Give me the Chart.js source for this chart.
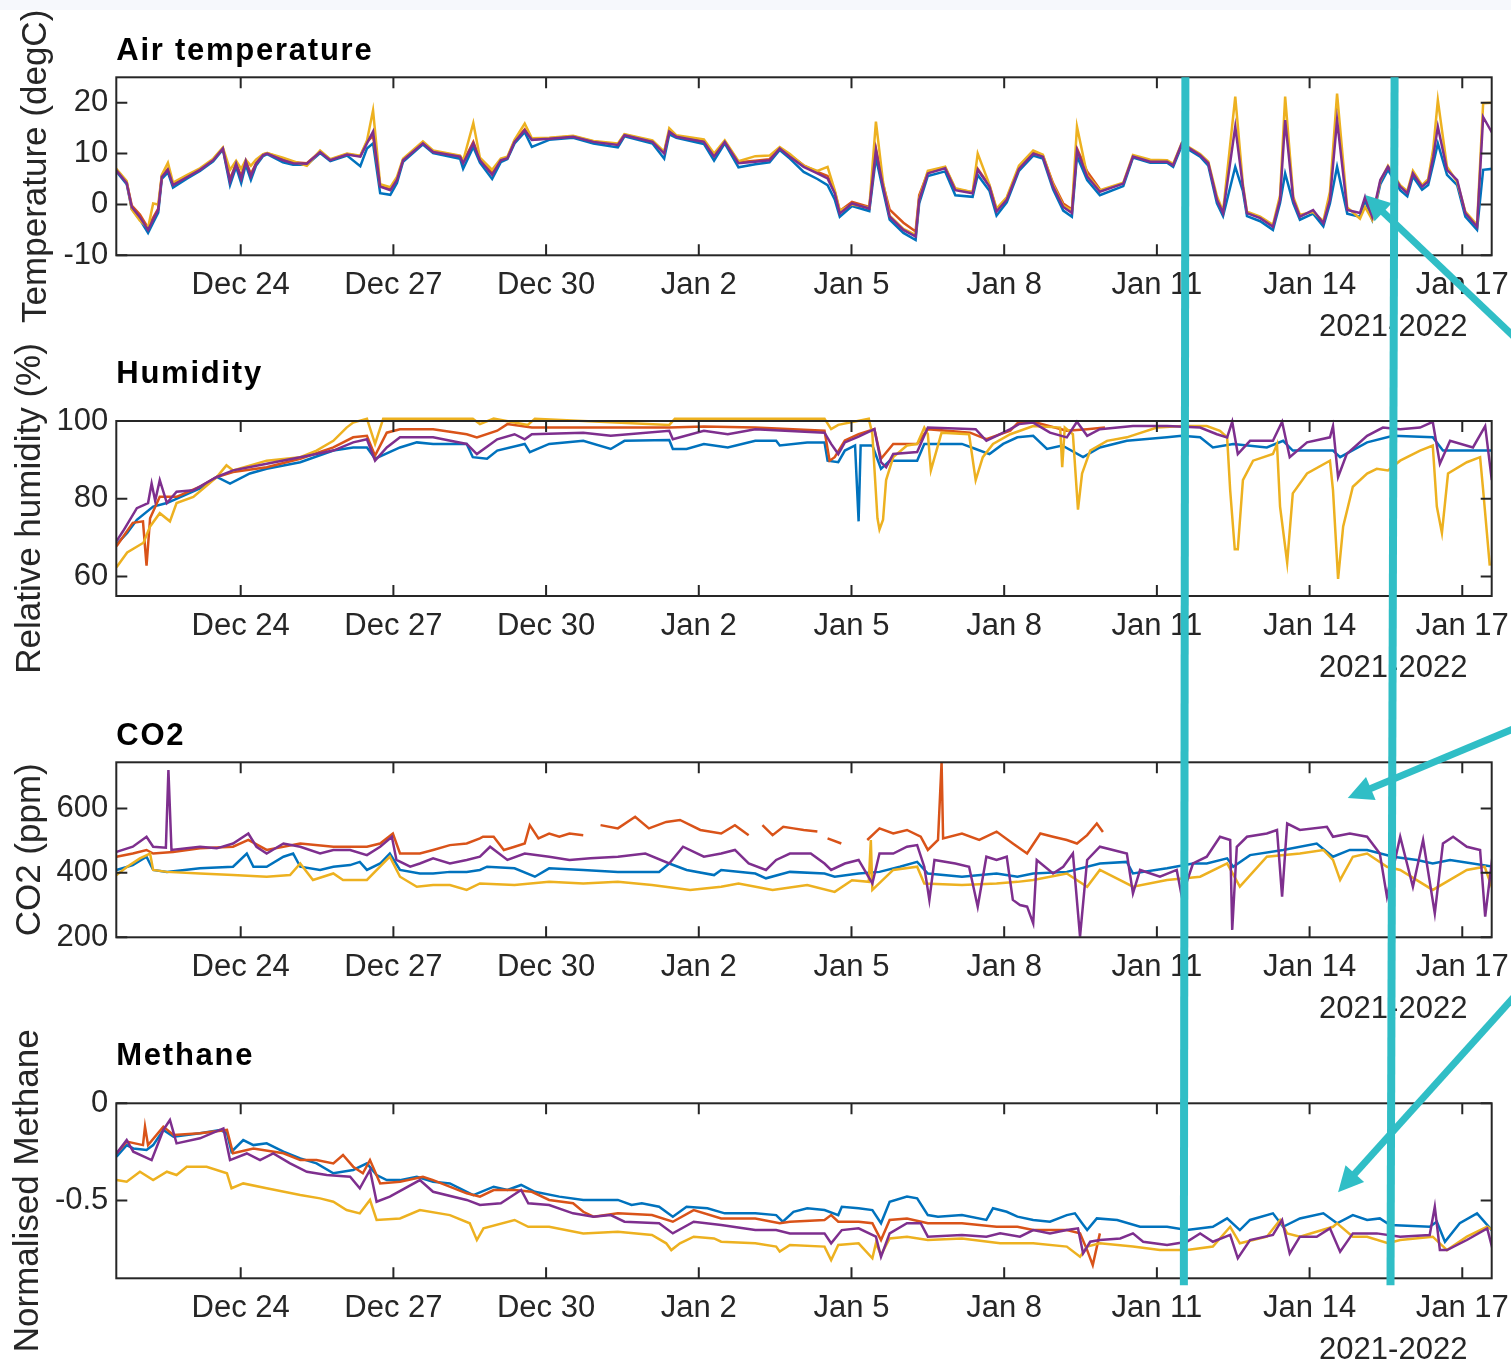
<!DOCTYPE html>
<html><head><meta charset="utf-8">
<script src="https://cdn.jsdelivr.net/npm/chart.js@4.4.1/dist/chart.umd.min.js"></script>
<style>
html,body{margin:0;padding:0;background:#fff;}
body{width:1511px;height:1362px;position:relative;overflow:hidden;}
#topband{position:absolute;left:0;top:0;width:1511px;height:10px;background:#f6f8fc;}
canvas{position:absolute;left:0;}
#overlay{position:absolute;left:0;top:0;pointer-events:none;}
</style></head><body>
<div id="topband"></div>
<canvas id="c1" width="1511" height="340" style="top:0px"></canvas>
<canvas id="c2" width="1511" height="340" style="top:340px"></canvas>
<canvas id="c3" width="1511" height="340" style="top:680px"></canvas>
<canvas id="c4" width="1511" height="342" style="top:1020px"></canvas>
<svg id="overlay" width="1511" height="1362" xmlns="http://www.w3.org/2000/svg"></svg>
<script>
// Time axis: days since 2021-12-21 00:00
const xTickDays   = [3, 6, 9, 12, 15, 18, 21, 24, 27];
const xTickLabels = ['Dec 24','Dec 27','Dec 30','Jan 2','Jan 5','Jan 8','Jan 11','Jan 14','Jan 17'];
const xSecondaryLabel = '2021-2022';

// ---------- Air temperature (degC) ----------
const tempT = [0.49,0.76,0.86,1.02,1.18,1.28,1.38,1.45,1.57,1.67,
 1.95,2.20,2.46,2.65,2.79,2.91,3.01,3.10,3.20,3.30,
 3.44,3.52,3.83,4.03,4.30,4.56,4.76,5.09,5.35,5.48,
 5.60,5.74,5.94,6.07,6.19,6.58,6.78,7.31,7.37,7.57,
 7.70,7.94,8.11,8.24,8.38,8.58,8.72,9.06,9.53,9.93,
 10.41,10.54,11.09,11.32,11.42,11.56,12.10,12.30,12.51,12.78,
 13.11,13.39,13.59,13.79,14.06,14.33,14.53,14.67,14.77,15.01,
 15.35,15.48,15.62,15.75,16.02,16.26,16.33,16.50,16.84,17.04,
 17.38,17.48,17.71,17.85,18.05,18.29,18.57,18.76,18.96,19.16,
 19.33,19.43,19.63,19.88,20.34,20.53,20.87,21.20,21.32,21.49,
 21.85,22.01,22.18,22.30,22.54,22.69,22.77,23.03,23.28,23.42,
 23.52,23.68,23.81,24.07,24.27,24.40,24.54,24.74,24.99,25.09,
 25.23,25.39,25.54,25.78,25.92,26.03,26.21,26.33,26.43,26.52,
 26.70,26.90,27.06,27.29,27.41,27.59];
const tempBlue = [7.3,4.0,-0.9,-3.0,-5.6,-3.6,-1.6,5.0,6.3,3.3,
 5.1,6.6,8.5,10.8,3.8,7.4,4.2,7.8,4.8,7.6,
 9.5,9.9,8.3,7.8,7.8,10.1,8.5,9.6,7.5,11.0,
 12.0,2.2,1.9,4.2,8.4,11.8,10.1,9.0,7.0,11.3,
 8.2,5.0,8.3,8.9,12.0,14.2,11.3,12.7,13.1,12.0,
 11.2,13.4,12.0,9.0,13.8,13.1,11.9,8.6,12.0,7.3,
 7.9,8.3,10.7,9.0,6.4,5.0,3.8,1.0,-2.4,-0.3,
 -1.3,9.2,2.8,-3.0,-5.6,-7.0,0.2,5.6,6.5,1.8,
 1.5,5.8,2.7,-2.2,0.4,6.6,9.6,9.0,3.0,-1.2,
 -2.4,9.5,4.8,1.8,3.6,9.2,8.2,8.2,7.4,11.6,
 9.4,7.6,0.2,-2.3,7.4,2.6,-2.3,-3.3,-5.0,0.3,
 6.1,0.2,-3.0,-1.8,-4.3,0.2,7.4,-1.8,-2.4,0.8,
 -3.0,4.0,6.8,2.8,1.6,5.5,2.9,3.8,8.0,12.0,
 5.8,3.8,-2.4,-5.0,6.8,7.0];
const tempOrange = [7.6,4.4,-0.2,-2.0,-4.6,-2.6,-0.8,5.6,7.0,4.0,
 5.5,6.9,8.8,11.0,5.0,8.0,5.6,8.5,6.0,8.0,
 9.8,10.1,8.9,8.3,8.1,10.4,8.8,9.9,9.5,12.3,
 13.5,3.6,3.0,5.0,8.8,12.2,10.4,9.5,8.3,12.3,
 8.9,6.2,8.8,9.2,12.5,14.8,12.8,13.0,13.4,12.4,
 11.8,13.7,12.4,10.2,14.4,13.4,12.4,9.6,12.4,8.3,
 8.6,8.9,11.1,9.7,7.7,6.4,5.6,2.6,-1.3,0.5,
 -0.5,11.0,4.0,-1.0,-3.6,-5.3,1.8,6.3,7.3,3.0,
 2.4,7.0,3.7,-1.0,1.2,7.2,10.2,9.6,4.2,0.2,
 -1.0,11.0,6.5,3.0];
const tempYellow = [7.8,4.6,-1.0,-3.2,-4.6,0.2,0.0,5.8,8.2,4.3,
 5.8,7.1,9.0,11.2,6.8,8.6,7.0,8.8,7.6,8.8,
 9.9,10.1,9.2,8.5,7.6,10.6,8.9,10.0,9.6,12.5,
 18.5,4.0,3.4,5.4,9.0,12.4,10.6,9.6,8.6,16.0,
 9.2,6.8,9.0,9.4,12.7,15.9,13.0,13.1,13.5,12.5,
 12.0,13.8,12.6,10.4,15.0,13.6,12.8,10.0,12.6,8.5,
 9.5,9.6,11.3,9.9,7.6,6.6,7.4,2.8,-1.2,0.0,
 -0.6,16.3,4.4,-2.2,-4.8,-6.0,1.2,6.6,7.4,3.2,
 2.4,10.0,3.9,-0.8,1.4,7.6,10.6,9.8,3.9,-0.2,
 -1.2,15.3,5.8,2.8,4.3,9.7,8.8,8.7,8.0,12.1,
 9.9,8.4,1.6,-1.4,21.2,4.0,-1.4,-2.4,-4.0,1.8,
 21.2,1.5,-2.0,-1.5,-3.3,2.5,21.8,-0.6,-2.8,-0.5,
 -3.0,4.6,7.6,3.8,2.6,6.6,3.8,5.0,11.0,20.5,
 7.4,4.4,-1.4,-4.0,19.9,20.0];
const tempPurple = [7.5,4.2,-0.5,-2.5,-5.0,-3.0,-1.0,5.4,6.8,3.8,
 5.4,6.8,8.7,11.0,4.5,8.0,5.0,8.5,5.5,8.0,
 9.7,10.0,8.7,8.1,8.0,10.3,8.7,9.8,9.4,12.0,
 14.3,3.5,2.8,4.8,8.7,12.0,10.3,9.4,8.1,12.0,
 8.7,5.8,8.7,9.1,12.3,14.6,12.7,12.9,13.3,12.3,
 11.7,13.6,12.3,10.0,14.3,13.3,12.3,9.4,12.3,8.1,
 8.4,8.7,11.0,9.4,7.4,6.1,5.1,2.2,-1.8,0.2,
 -0.8,10.7,3.5,-2.4,-5.0,-6.3,0.9,6.1,7.1,2.8,
 2.2,6.8,3.5,-1.4,0.9,7.0,10.0,9.4,3.5,-0.5,
 -1.7,10.7,5.5,2.5,4.1,9.4,8.4,8.4,7.7,12.0,
 9.7,8.1,0.9,-1.7,15.3,3.5,-1.7,-2.7,-4.4,0.9,
 16.6,0.9,-2.4,-1.1,-3.7,0.9,16.6,-1.1,-1.7,1.5,
 -2.4,4.8,7.4,3.5,2.2,6.1,3.5,4.5,9.4,15.3,
 6.8,4.8,-1.7,-4.4,17.2,14.0];

// ---------- Relative humidity (%) ----------
const humBlueT = [0.56,0.77,0.96,1.28,1.55,2.20,2.53,2.79,3.18,3.51,
 4.17,4.82,5.21,5.48,5.64,6.13,6.46,6.78,7.44,7.56,
 7.84,8.04,8.58,8.68,9.06,9.73,10.27,10.54,11.42,11.49,
 11.76,12.10,12.57,13.11,13.52,13.59,14.13,14.47,14.53,14.74,
 14.87,15.07,15.14,15.18,15.41,15.58,15.75,16.29,16.43,17.17,
 17.44,17.71,17.98,18.26,18.57,18.84,19.14,19.55,19.88,20.41,
 21.20,21.49,21.85,22.10,22.50,23.16,23.48,23.67,24.46,24.60,
 25.13,25.64,26.42,26.62,27.09,27.58];
const humBlue = [68.3,71.2,74.6,78.0,78.9,82.7,85.6,83.9,86.5,87.7,
 89.4,92.4,93.2,93.2,90.3,93.2,94.5,94.1,94.1,90.7,
 90.3,92.4,94.1,92.0,94.1,94.9,92.8,94.9,95.1,92.8,
 92.8,94.1,93.2,94.9,94.9,93.7,94.5,94.5,89.8,89.4,
 92.4,93.7,74.2,93.7,93.7,87.7,89.8,89.8,94.1,94.1,
 92.8,91.5,94.1,95.8,96.2,92.8,93.7,90.7,93.2,94.9,
 95.8,96.2,95.8,93.2,94.1,93.2,94.9,92.4,92.4,90.7,
 94.5,96.2,95.8,92.4,92.4,92.4];
const humOrangeT = [0.56,0.88,1.08,1.15,1.22,1.41,1.74,2.20,2.53,2.85,
 3.51,4.17,4.82,5.21,5.48,5.64,5.87,6.13,6.78,7.44,
 7.64,8.04,8.24,8.72,9.73,11.42,12.10,13.11,14.47,14.57,
 14.67,14.87,15.14,15.45,15.58,15.82,16.29,16.50,17.33,17.65,
 18.12,18.29,18.57,19.23,19.63,19.98];
const humOrange = [67.8,73.8,74.2,62.8,75.0,80.5,80.5,83.1,85.6,86.9,
 88.1,90.3,93.2,95.8,96.2,91.1,97.0,97.9,97.9,96.6,
 95.8,97.5,99.2,98.3,98.3,98.3,98.6,98.3,97.5,89.8,
 90.7,95.0,96.6,97.9,90.3,94.1,94.1,97.9,97.0,95.3,
 97.5,99.8,99.8,97.5,97.9,98.3];
const humYellowT = [0.56,0.77,1.09,1.22,1.41,1.61,1.74,2.07,2.53,2.72,
 2.85,3.51,4.17,4.49,4.82,5.08,5.21,5.48,5.64,5.80,
 7.56,7.70,7.97,8.64,8.78,11.42,11.53,14.47,14.60,14.74,
 15.34,15.41,15.51,15.55,15.62,15.68,15.82,16.09,16.29,16.43,
 16.50,16.56,16.67,16.77,17.31,17.44,17.58,17.78,18.12,18.57,
 19.10,19.14,19.19,19.35,19.45,19.53,19.69,20.02,20.41,21.00,
 21.51,21.98,22.24,22.38,22.44,22.53,22.59,22.69,22.89,23.28,
 23.36,23.42,23.56,23.67,23.95,24.40,24.46,24.56,24.66,24.85,
 25.13,25.32,25.54,25.78,26.17,26.42,26.50,26.60,26.72,27.09,
 27.35,27.41,27.54];
const humYellow = [62.4,66.2,68.7,72.9,76.3,74.2,78.9,80.5,85.6,88.6,
 87.3,89.8,90.7,92.4,94.9,98.3,99.6,100.6,94.1,100.6,
 100.6,99.2,100.6,99.0,100.6,99.0,100.6,100.6,97.9,99.0,
 100.6,96.6,75.0,72.1,74.6,84.8,90.7,93.7,94.1,98.3,
 96.6,87.3,92.4,97.0,96.6,84.8,90.7,94.1,96.6,98.7,
 98.3,88.1,98.3,96.6,77.2,86.5,92.4,94.9,95.8,98.3,
 98.7,98.7,97.5,95.8,82.2,67.0,67.0,84.8,89.8,91.5,
 94.0,78.0,63.6,81.4,86.5,89.8,82.2,59.4,72.9,83.1,
 86.5,87.7,87.3,89.8,92.4,93.7,78.0,71.2,86.5,89.4,
 90.7,82.2,62.8];
const humPurpleT = [0.56,0.69,0.96,1.18,1.25,1.32,1.41,1.55,1.74,2.07,
 2.53,2.85,3.51,4.17,4.82,5.21,5.48,5.64,5.87,6.13,
 6.78,7.44,7.64,8.04,8.38,8.58,8.72,9.73,10.27,11.42,
 11.49,12.10,12.57,13.11,14.47,14.60,14.74,14.87,15.14,15.45,
 15.58,15.68,15.82,16.29,16.50,17.44,17.65,17.85,18.12,18.29,
 18.57,18.90,19.23,19.43,19.63,19.88,20.53,21.20,21.85,22.18,
 22.38,22.48,22.59,22.83,23.28,23.46,23.61,23.95,24.40,24.46,
 24.56,24.73,25.13,25.44,25.78,26.17,26.42,26.56,26.76,27.21,
 27.45,27.58];
const humPurple = [69.1,71.7,77.6,78.9,83.9,79.5,84.8,78.9,81.8,82.2,
 85.6,87.3,89.0,90.7,92.4,94.5,95.3,89.8,93.2,95.8,
 95.8,94.1,91.5,95.3,96.6,95.3,96.6,97.0,96.2,97.5,
 95.3,97.5,96.6,97.9,97.0,94.1,91.5,94.5,96.0,97.9,
 89.4,88.1,91.5,92.0,98.3,97.9,94.9,96.2,97.9,99.2,
 99.6,97.0,95.8,99.8,96.2,97.9,98.7,98.7,98.3,96.6,
 95.8,99.8,91.5,94.9,94.9,99.8,90.7,94.5,95.8,98.7,
 85.6,91.5,96.2,98.3,97.9,98.3,99.8,89.0,94.9,93.2,
 98.7,84.8];

// ---------- CO2 (ppm) ----------
const co2BlueT = [0.56,0.88,1.15,1.28,1.55,2.20,2.85,3.12,3.25,3.51,
 3.84,4.03,4.17,4.56,4.82,5.15,5.34,5.48,5.74,5.93,
 6.13,6.52,6.78,7.11,7.44,7.70,7.84,8.38,8.78,9.06,
 9.73,10.41,11.22,11.42,11.76,12.30,12.44,13.11,13.32,13.79,
 14.47,14.67,15.14,15.55,15.95,16.29,16.50,17.17,17.85,18.26,
 18.57,19.23,19.88,20.41,20.53,21.20,21.71,21.98,22.38,22.50,
 22.83,23.48,24.14,24.46,24.79,25.13,25.64,26.11,26.42,26.76,
 27.60];
const co2Blue = [409,424,450,409,403,414,419,460,419,419,
 450,460,419,409,419,424,434,409,429,460,
 409,398,398,403,403,409,419,414,388,414,
 409,403,403,429,409,393,409,398,383,403,
 398,388,398,403,419,434,398,388,398,388,
 398,403,429,434,398,414,429,429,445,419,
 455,471,491,450,471,471,450,440,429,440,
 419];
const co2OrangeT = [0.56,0.88,1.15,1.28,1.67,2.20,2.85,3.15,3.51,4.17,
 4.82,5.48,5.74,5.99,6.13,6.52,6.78,7.11,7.44,7.70,
 7.76,7.97,8.17,8.38,8.58,8.68,8.85,9.06,9.26,9.46,
 9.73,9.90,10.07,10.41,10.75,11.02,11.36,11.63,12.03,12.44,
 12.71,12.98,13.10,13.25,13.45,13.66,13.86,14.06,14.33,14.43,
 14.53,14.80,14.95,15.31,15.55,15.82,16.09,16.36,16.50,16.70,
 16.77,16.80,17.17,17.51,17.85,18.17,18.45,18.71,18.96,19.23,
 19.43,19.63,19.82,19.94];
const co2Orange = [450,460,471,460,465,476,481,502,471,491,
 481,481,491,522,460,460,471,486,491,507,
 512,512,471,481,491,548,507,522,512,522,
 517,null,548,538,574,538,558,564,533,522,
 548,517,null,548,517,543,538,533,528,null,
 507,491,null,502,538,522,533,512,471,502,
 744,507,522,502,528,491,460,522,512,502,
 491,517,553,527];
const co2YellowT = [0.56,0.77,1.02,1.22,1.28,1.55,2.20,2.85,3.51,3.97,
 4.17,4.42,4.82,5.01,5.48,5.93,6.13,6.46,6.78,7.11,
 7.44,7.70,8.38,9.06,9.73,10.41,11.08,11.83,12.44,12.78,
 13.45,14.13,14.67,15.01,15.34,15.38,15.41,15.82,16.29,16.43,
 17.17,17.85,18.26,18.57,19.23,19.63,19.88,20.53,21.20,21.85,
 22.38,22.63,23.16,23.81,24.27,24.46,24.60,24.85,25.13,25.52,
 25.78,26.42,27.09,27.44,27.60];
const co2Yellow = [393,419,445,460,409,403,398,393,388,393,
 429,378,398,378,378,450,388,357,362,362,
 347,367,362,372,367,372,362,347,357,367,
 347,362,341,377,372,502,347,409,419,367,
 362,367,372,378,398,357,409,357,378,388,
 429,357,450,460,471,440,378,450,460,419,
 409,347,409,419,347];
const co2PurpleT = [0.56,0.88,1.15,1.28,1.53,1.58,1.64,1.94,2.20,2.53,
 2.85,3.15,3.31,3.51,3.84,4.17,4.56,4.82,5.15,5.48,
 5.74,5.97,6.06,6.33,6.52,6.78,7.11,7.44,7.70,7.90,
 8.24,8.58,9.06,9.46,9.87,10.41,10.95,11.42,11.69,12.10,
 12.44,12.71,12.98,13.32,13.52,13.79,14.20,14.47,14.60,14.87,
 15.14,15.41,15.55,15.82,16.09,16.29,16.43,16.53,16.63,17.04,
 17.31,17.48,17.65,17.85,18.05,18.17,18.31,18.45,18.57,18.64,
 18.96,19.16,19.35,19.49,19.63,19.88,20.41,20.53,20.67,21.06,
 21.39,21.49,21.71,21.98,22.24,22.44,22.48,22.57,22.77,23.16,
 23.36,23.46,23.56,23.81,24.34,24.46,24.79,25.13,25.38,25.52,
 25.78,26.03,26.23,26.46,26.62,26.82,27.09,27.35,27.45,27.60];
const co2Purple = [465,481,512,481,478,719,471,476,481,476,
 491,522,481,460,491,481,460,471,471,455,
 481,512,440,419,429,445,429,440,450,481,
 440,460,450,440,445,450,460,429,481,450,
 460,471,429,409,440,460,460,429,409,429,
 440,367,460,460,481,486,419,316,440,429,
 419,295,450,440,450,316,300,295,243,440,
 398,419,460,202,440,481,460,336,409,388,
 409,326,429,450,512,502,223,481,512,522,
 533,326,553,533,543,512,522,512,460,326,
 512,357,502,274,491,512,481,471,264,460];

// ---------- Normalised methane ----------
const ch4BlueT = [0.56,0.76,0.89,1.15,1.28,1.48,1.68,2.20,2.59,2.73,
 2.82,3.05,3.25,3.51,3.84,4.17,4.49,4.82,5.21,5.48,
 5.67,5.87,6.13,6.46,6.78,7.11,7.57,7.97,8.24,8.51,
 8.78,9.26,9.73,10.41,10.68,10.88,11.22,11.49,11.76,12.17,
 12.51,13.11,13.52,13.65,13.86,14.13,14.47,14.74,14.81,15.14,
 15.41,15.58,15.75,16.09,16.29,16.50,16.70,17.17,17.65,17.78,
 18.05,18.26,18.57,18.90,19.23,19.39,19.53,19.63,19.82,20.22,
 20.67,21.20,21.59,22.10,22.38,22.63,22.83,23.28,23.48,23.81,
 24.27,24.54,24.85,25.13,25.38,25.58,26.36,26.50,26.66,26.95,
 27.29,27.58];
const ch4Blue = [-0.275,-0.215,-0.232,-0.240,-0.215,-0.137,-0.172,-0.154,-0.137,-0.154,
 -0.249,-0.189,-0.215,-0.206,-0.249,-0.283,-0.309,-0.360,-0.343,-0.309,
 -0.369,-0.395,-0.395,-0.378,-0.403,-0.412,-0.472,-0.429,-0.446,-0.420,
 -0.455,-0.480,-0.497,-0.497,-0.523,-0.514,-0.532,-0.583,-0.532,-0.540,
 -0.566,-0.566,-0.575,-0.609,-0.558,-0.540,-0.549,-0.575,-0.532,-0.540,
 -0.549,-0.617,-0.506,-0.480,-0.489,-0.575,-0.583,-0.575,-0.600,-0.540,
 -0.558,-0.583,-0.600,-0.609,-0.575,-0.566,-0.617,-0.652,-0.592,-0.600,
 -0.635,-0.635,-0.652,-0.635,-0.592,-0.652,-0.600,-0.566,-0.635,-0.592,
 -0.566,-0.617,-0.575,-0.600,-0.592,-0.626,-0.635,-0.609,-0.712,-0.617,
 -0.566,-0.652];
const ch4OrangeT = [0.56,0.76,1.08,1.12,1.18,1.48,1.68,2.20,2.73,2.85,
 3.25,3.84,4.17,4.49,4.82,5.01,5.21,5.40,5.54,5.74,
 6.13,6.58,6.78,7.44,7.70,7.97,8.38,8.72,9.06,9.53,
 9.73,9.93,10.41,11.08,11.49,11.90,12.44,13.11,13.59,13.79,
 14.47,14.60,14.74,15.14,15.41,15.58,15.75,16.09,16.50,17.17,
 17.85,18.26,18.57,19.23,19.49,19.63,19.74,19.88];
const ch4Orange = [-0.258,-0.197,-0.215,-0.120,-0.215,-0.120,-0.163,-0.154,-0.137,-0.257,
 -0.232,-0.257,-0.292,-0.292,-0.309,-0.266,-0.326,-0.360,-0.292,-0.412,
 -0.403,-0.378,-0.395,-0.463,-0.480,-0.446,-0.446,-0.455,-0.497,-0.514,
 -0.558,-0.583,-0.566,-0.575,-0.609,-0.549,-0.592,-0.592,-0.617,-0.609,
 -0.600,-0.575,-0.609,-0.609,-0.617,-0.703,-0.600,-0.592,-0.617,-0.617,
 -0.635,-0.635,-0.652,-0.652,-0.669,-0.755,-0.832,-0.669];
const ch4YellowT = [0.56,0.76,1.02,1.28,1.55,1.74,1.94,2.33,2.73,2.82,
 3.05,3.51,4.17,4.56,4.82,5.08,5.34,5.54,5.67,6.13,
 6.52,7.11,7.50,7.64,7.77,8.38,8.65,9.06,9.73,10.41,
 11.08,11.36,11.46,11.63,11.90,12.30,12.44,13.11,13.52,13.59,
 13.79,14.47,14.60,14.74,15.14,15.41,15.48,15.58,15.75,16.09,
 16.50,17.17,17.92,18.57,19.23,19.49,19.63,19.88,20.53,21.06,
 21.59,22.10,22.44,22.63,23.16,23.42,23.56,23.81,24.46,24.54,
 24.85,25.13,25.54,25.78,26.42,26.70,27.09,27.49,27.60];
const ch4Yellow = [-0.395,-0.403,-0.352,-0.395,-0.352,-0.369,-0.326,-0.326,-0.360,-0.437,
 -0.412,-0.437,-0.472,-0.489,-0.506,-0.549,-0.566,-0.497,-0.600,-0.592,
 -0.549,-0.575,-0.617,-0.703,-0.643,-0.600,-0.635,-0.635,-0.669,-0.660,
 -0.677,-0.720,-0.755,-0.720,-0.686,-0.695,-0.712,-0.720,-0.737,-0.763,
 -0.729,-0.737,-0.806,-0.729,-0.720,-0.797,-0.720,-0.780,-0.695,-0.686,
 -0.703,-0.695,-0.720,-0.720,-0.737,-0.789,-0.737,-0.720,-0.737,-0.755,
 -0.755,-0.737,-0.635,-0.720,-0.686,-0.600,-0.669,-0.686,-0.635,-0.617,
 -0.686,-0.686,-0.720,-0.703,-0.686,-0.755,-0.686,-0.635,-0.652];
const ch4PurpleT = [0.56,0.76,0.89,1.25,1.48,1.61,1.74,2.20,2.66,2.79,
 3.12,3.38,3.64,3.97,4.30,4.69,5.15,5.34,5.54,5.67,
 5.93,6.52,6.78,7.44,7.70,8.11,8.51,8.65,9.06,9.53,
 9.93,10.27,10.54,11.22,11.49,11.90,12.44,13.11,13.52,13.79,
 14.47,14.60,14.81,15.14,15.48,15.58,15.75,16.09,16.36,16.50,
 17.17,17.65,17.92,18.31,18.57,18.90,19.23,19.45,19.55,19.69,
 19.88,20.28,20.53,20.73,21.20,21.59,21.85,22.10,22.44,22.59,
 22.83,23.28,23.46,23.61,23.81,24.14,24.40,24.60,24.85,25.32,
 25.78,26.36,26.46,26.56,26.70,27.09,27.49,27.60];
const ch4Purple = [-0.258,-0.189,-0.249,-0.292,-0.137,-0.086,-0.206,-0.180,-0.129,-0.292,
 -0.258,-0.292,-0.258,-0.309,-0.352,-0.369,-0.378,-0.437,-0.343,-0.506,
 -0.480,-0.395,-0.455,-0.497,-0.523,-0.514,-0.446,-0.514,-0.523,-0.566,
 -0.583,-0.575,-0.609,-0.617,-0.669,-0.609,-0.626,-0.652,-0.652,-0.669,
 -0.669,-0.720,-0.652,-0.643,-0.686,-0.789,-0.669,-0.617,-0.617,-0.686,
 -0.677,-0.686,-0.669,-0.686,-0.652,-0.669,-0.652,-0.643,-0.772,-0.712,
 -0.703,-0.695,-0.669,-0.712,-0.729,-0.712,-0.669,-0.712,-0.677,-0.797,
 -0.703,-0.677,-0.600,-0.772,-0.686,-0.686,-0.643,-0.763,-0.669,-0.669,
 -0.686,-0.677,-0.532,-0.755,-0.755,-0.703,-0.643,-0.755];

// Annotation (teal markers drawn over the figure)
const markerTopDays    = [21.56, 25.67];
const markerBottomDays = [21.53, 25.59];
const arrowPanel  = [0, 2, 3];
const arrowDays   = [25.09, 24.75, 24.56];
const arrowValues = [1.85, 632, -0.457];

// ---------- styling / layout ----------
const FONT = '"Liberation Sans", Arial, Helvetica, sans-serif';
const COLORS = {blue:'#0072BD', orange:'#D95319', yellow:'#EDB120', purple:'#7E2F8E'};
const AX = '#262626';
const X_MIN = 0.556, X_MAX = 27.578;
const PLOT_LEFT = 116.3, PLOT_RIGHT = 1491.7, TICK_LEN = 11;
Chart.defaults.font.family = FONT;

const panels = [
 {id:'c1', top:0, title:'Air temperature', ylabel:'Temperature (degC)', yMin:-10, yMax:25,
  yTicks:[-10,0,10,20], yLabels:['-10','0','10','20'], boxTop:77.3, boxBottom:255.3, titleBase:60, ylabelPad:15.5,
  series:[['blue',tempT,tempBlue],['orange',tempT,tempOrange],['yellow',tempT,tempYellow],['purple',tempT,tempPurple]]},
 {id:'c2', top:340, title:'Humidity', ylabel:'Relative humidity (%)', yMin:55, yMax:100,
  yTicks:[60,80,100], yLabels:['60','80','100'], boxTop:81, boxBottom:256, titleBase:43.3, ylabelPad:9, clipTop:5,
  series:[['blue',humBlueT,humBlue],['orange',humOrangeT,humOrange],['yellow',humYellowT,humYellow],['purple',humPurpleT,humPurple]]},
 {id:'c3', top:680, title:'CO2', ylabel:'CO2 (ppm)', yMin:200, yMax:743,
  yTicks:[200,400,600], yLabels:['200','400','600'], boxTop:82.3, boxBottom:257.3, titleBase:65, ylabelPad:9.8,
  series:[['blue',co2BlueT,co2Blue],['orange',co2OrangeT,co2Orange],['yellow',co2YellowT,co2Yellow],['purple',co2PurpleT,co2Purple]]},
 {id:'c4', top:1020, title:'Methane', ylabel:'Normalised Methane', yMin:-0.9, yMax:0,
  yTicks:[-0.5,0], yLabels:['-0.5','0'], boxTop:83.3, boxBottom:258.3, titleBase:45, ylabelPad:7.3,
  series:[['blue',ch4BlueT,ch4Blue],['orange',ch4OrangeT,ch4Orange],['yellow',ch4YellowT,ch4Yellow],['purple',ch4PurpleT,ch4Purple]]}
];

const matlabAxes = {
  id: 'matlabAxes',
  afterDatasetsDraw(chart, args, o) {
    const {ctx, chartArea: a} = chart;
    const xs = chart.scales.x, ys = chart.scales.y;
    ctx.save();
    ctx.strokeStyle = AX; ctx.lineWidth = 2;
    ctx.beginPath();
    for (const d of xTickDays) {
      const px = xs.getPixelForValue(d);
      ctx.moveTo(px, a.bottom); ctx.lineTo(px, a.bottom - TICK_LEN);
      ctx.moveTo(px, a.top); ctx.lineTo(px, a.top + TICK_LEN);
    }
    for (const v of o.yTicks) {
      const py = ys.getPixelForValue(v);
      if (py < a.top - 0.5 || py > a.bottom + 0.5) continue;
      ctx.moveTo(a.left, py); ctx.lineTo(a.left + TICK_LEN, py);
      ctx.moveTo(a.right, py); ctx.lineTo(a.right - TICK_LEN, py);
    }
    ctx.stroke();
    ctx.strokeRect(a.left, a.top, a.right - a.left, a.bottom - a.top);
    // panel title
    ctx.fillStyle = '#000';
    ctx.font = 'bold 31px ' + FONT;
    ctx.textAlign = 'left'; ctx.textBaseline = 'alphabetic';
    try { ctx.letterSpacing = '1.75px'; } catch(e) {}
    ctx.fillText(o.title, a.left, o.titleBase);
    try { ctx.letterSpacing = '0px'; } catch(e) {}
    // secondary date label
    ctx.fillStyle = AX;
    ctx.font = '31px ' + FONT;
    ctx.textAlign = 'right';
    ctx.fillText(xSecondaryLabel, xs.getPixelForValue(27.1), a.bottom + 81);
    ctx.restore();
  }
};

const order = {blue:3, orange:2, yellow:1, purple:0};
const charts = panels.map(p => {
  const canvas = document.getElementById(p.id);
  const H = canvas.height;
  return new Chart(canvas, {
    type: 'line',
    data: {
      datasets: p.series.map(([name, t, v]) => ({
        label: name,
        data: v.map((y, i) => ({x: t[i], y: y})),
        borderColor: COLORS[name], backgroundColor: COLORS[name],
        borderWidth: 2.5, pointRadius: 0, pointHoverRadius: 0, tension: 0,
        fill: false, spanGaps: false, order: order[name],
        clip: {left: 0, right: 0, top: p.clipTop || 1, bottom: 1}
      }))
    },
    options: {
      responsive: false, animation: false, devicePixelRatio: 1, events: [],
      layout: {padding: {left: 0, right: canvas.width - PLOT_RIGHT, top: p.boxTop, bottom: 0}},
      plugins: {legend: {display: false}, title: {display: false}, tooltip: {enabled: false},
        matlabAxes: {title: p.title, titleBase: p.titleBase, yTicks: p.yTicks}},
      scales: {
        x: {
          type: 'linear', min: X_MIN, max: X_MAX,
          grid: {display: false, drawTicks: false}, border: {display: false},
          ticks: {autoSkip: false, maxRotation: 0, padding: 12, color: AX,
                  font: {size: 31, family: FONT, lineHeight: 1.2},
                  callback: (val, i) => xTickLabels[i]},
          afterBuildTicks: s => { s.ticks = xTickDays.map(d => ({value: d})); },
          afterFit: s => { s.height = H - p.boxBottom; s.paddingLeft = 0; s.paddingRight = 0; s.paddingTop = 0; s.paddingBottom = 0; }
        },
        y: {
          type: 'linear', min: p.yMin, max: p.yMax,
          grid: {display: false, drawTicks: false}, border: {display: false},
          ticks: {padding: 8, color: AX, font: {size: 31, family: FONT, lineHeight: 1.2},
                  callback: (val, i) => p.yLabels[i]},
          afterBuildTicks: s => { s.ticks = p.yTicks.map(v => ({value: v})); },
          afterFit: s => { s.width = PLOT_LEFT; s.paddingLeft = 0; s.paddingRight = 0; s.paddingTop = 0; s.paddingBottom = 0; },
          title: {display: true, text: p.ylabel, color: AX, font: {size: 35, family: FONT, lineHeight: 1.2},
                  padding: {top: p.ylabelPad, bottom: 0}}
        }
      }
    },
    plugins: [matlabAxes]
  });
});

// ---------- teal annotation overlay ----------
(function drawOverlay() {
  const NS = 'http://www.w3.org/2000/svg';
  const svg = document.getElementById('overlay');
  const TEAL = '#30bec6';
  const add = (tag, attrs) => { const el = document.createElementNS(NS, tag);
    for (const k in attrs) el.setAttribute(k, attrs[k]); svg.appendChild(el); return el; };
  const c1 = charts[0], c4 = charts[3];
  const yTop = c1.chartArea.top + panels[0].top;
  const yBot = c4.chartArea.bottom + panels[3].top + 7;
  markerTopDays.forEach((d, i) => {
    const xt = c1.scales.x.getPixelForValue(d);
    const xb = c4.scales.x.getPixelForValue(markerBottomDays[i]);
    add('line', {x1: xt, y1: yTop, x2: xb, y2: yBot, stroke: TEAL, 'stroke-width': 8});
  });
  const tails = [[165, 157], [182, -76], [192, -213]];
  arrowDays.forEach((d, i) => {
    const ch = charts[arrowPanel[i]], off = panels[arrowPanel[i]].top;
    const tx = ch.scales.x.getPixelForValue(d), ty = ch.scales.y.getPixelForValue(arrowValues[i]) + off;
    const sx = tx + tails[i][0], sy = ty + tails[i][1];
    const len = Math.hypot(tx - sx, ty - sy), ux = (tx - sx) / len, uy = (ty - sy) / len;
    const L = 25, W = 12.5;
    const bx = tx - ux * L, by = ty - uy * L, nx = -uy, ny = ux;
    add('line', {x1: sx, y1: sy, x2: bx + ux * 4, y2: by + uy * 4, stroke: TEAL, 'stroke-width': 7});
    add('polygon', {points: `${tx},${ty} ${bx + nx * W},${by + ny * W} ${bx - nx * W},${by - ny * W}`, fill: TEAL});
  });
})();
</script>
</body></html>
